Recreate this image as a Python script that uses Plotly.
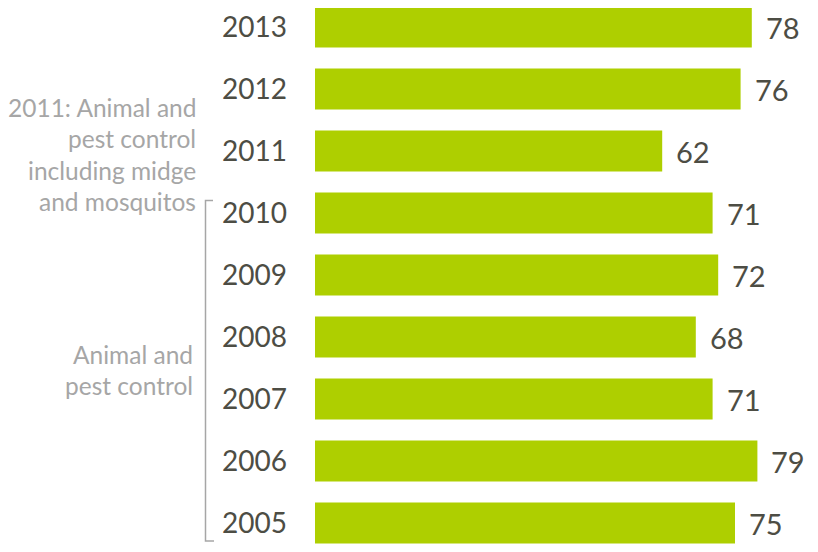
import plotly.graph_objects as go

years = ["2005", "2006", "2007", "2008", "2009", "2010", "2011", "2012", "2013"]
values = [75, 79, 71, 68, 72, 71, 62, 76, 78]
note_2011 = ["2011: Animal and", "pest control", "including midge", "and mosquitos"]
note_old = ["Animal and", "pest control"]

# figure is placed at (8, 8) inside the page and fills 802 x 536
OFF = 8
W, H = 802, 536
DX = 6  # horizontal shift so every label stays inside the page

L = 321 - DX - OFF
px_per_unit = 5.6
plot_w = W - L

top_center_w = 27      # window px of the 2013 bar centre
bottom_center_w = 523  # window px of the 2005 bar centre
px_per_cat = (bottom_center_w - top_center_w) / 8


def wx(x_ref):
    """reference x (window px) -> paper x"""
    return (x_ref - DX - OFF - L) / plot_w


def wy(y_ref):
    """reference y (window px) -> paper y"""
    y_w = top_center_w + (y_ref - 28) * px_per_cat / 63.25
    return 1 - (y_w - OFF) / H


fig = go.Figure()
fig.add_trace(go.Bar(
    y=years, x=values, orientation="h",
    marker=dict(color="#AECF00", line=dict(width=0)),
    width=0.66, hoverinfo="skip",
))

for i, v in enumerate(values):
    fig.add_annotation(x=v, y=i, xref="x", yref="y", text=str(v),
                       showarrow=False, xanchor="left", xshift=12,
                       font=dict(family="Lato", size=29, color="#4d4d44"))

for i, line in enumerate(note_2011):
    fig.add_annotation(x=wx(204), y=wy(110 + 32 * i), xref="paper", yref="paper",
                       text=line, showarrow=False, xanchor="right", yanchor="middle",
                       font=dict(family="Lato", size=24.5, color="#a6a6a6"))
for i, line in enumerate(note_old):
    fig.add_annotation(x=wx(201), y=wy(362 + 32 * i), xref="paper", yref="paper",
                       text=line, showarrow=False, xanchor="right", yanchor="middle",
                       font=dict(family="Lato", size=24.5, color="#a6a6a6"))

# bracket
bottom_paper = 1 - 533 / H  # keep the bottom tick inside the figure
fig.add_shape(type="path", xref="paper", yref="paper",
              path=f"M {wx(219)},{wy(205)} L {wx(211.5)},{wy(205)} "
                   f"L {wx(211.5)},{bottom_paper} L {wx(220)},{bottom_paper}",
              line=dict(color="#a6a6a6", width=1.5))

top_c = top_center_w - OFF
bot_c = bottom_center_w - OFF
fig.update_layout(
    width=W, height=H,
    margin=dict(l=L, r=0, t=0, b=0),
    paper_bgcolor="white", plot_bgcolor="white",
    showlegend=False,
    xaxis=dict(range=[0, plot_w / px_per_unit], visible=False, fixedrange=True),
    yaxis=dict(categoryorder="array", categoryarray=years,
               range=[-(H - bot_c) / px_per_cat, 8 + top_c / px_per_cat],
               showgrid=False, zeroline=False, showline=False,
               ticks="", ticklabelstandoff=27,
               tickfont=dict(family="Lato", size=28, color="#4d4d44")),
)

fig.write_html("out.html")
